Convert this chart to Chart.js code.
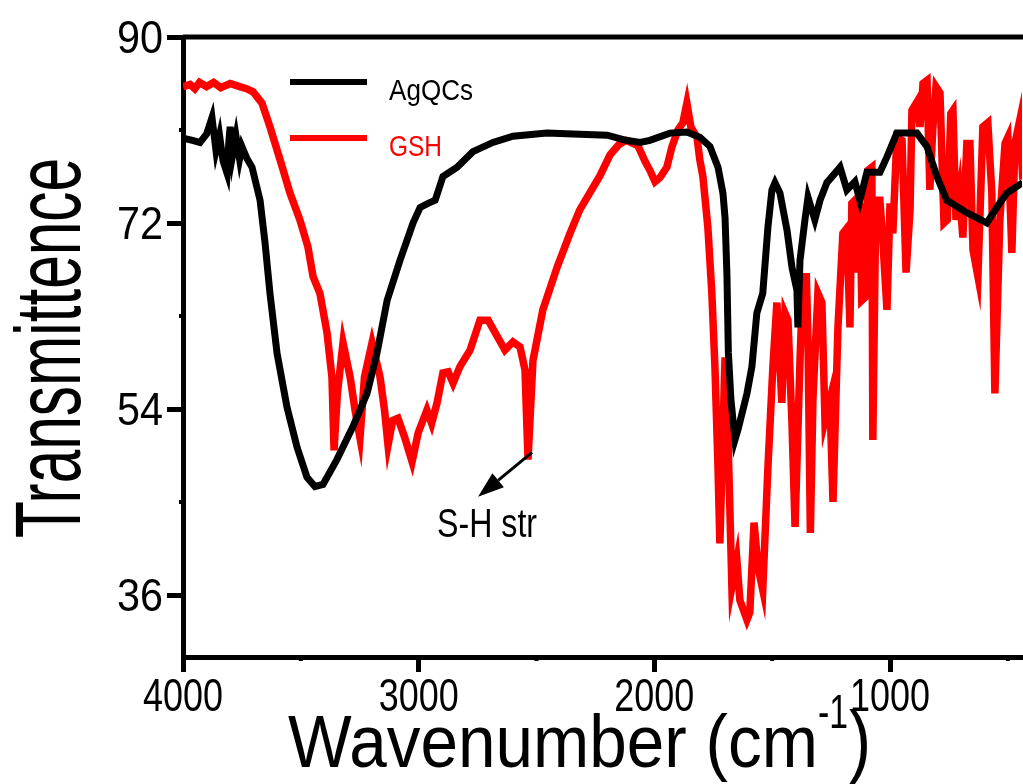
<!DOCTYPE html>
<html>
<head>
<meta charset="utf-8">
<title>FTIR AgQCs vs GSH</title>
<script src="https://cdn.jsdelivr.net/npm/chart.js@4.4.1/dist/chart.umd.min.js"></script>
<style>
  html, body { margin: 0; padding: 0; background: #fff; }
  #wrap { width: 1023px; height: 784px; }
</style>
</head>
<body>
<div id="wrap"><canvas id="ftir" width="1023" height="784"></canvas></div>
<script>
// FTIR spectra, values (wavenumber in cm-1, transmittence)
const agqcsWavenumber = [4000, 3960, 3928, 3900, 3877, 3860, 3845, 3830, 3813, 3805, 3800, 3790, 3775, 3760, 3750,
  3730, 3707, 3690, 3673, 3652, 3631, 3601, 3559, 3516, 3474, 3440, 3406, 3347, 3279, 3219, 3177, 3134, 3079,
  3024, 2994, 2960, 2930, 2897, 2837, 2770, 2685, 2600, 2456, 2316, 2200, 2120, 2060, 2019, 1934, 1862, 1807,
  1764, 1730, 1709, 1700, 1692, 1686, 1675, 1658, 1645, 1607, 1586, 1565, 1540, 1518, 1501, 1488, 1467, 1437,
  1416, 1395, 1391, 1382, 1361, 1348, 1319, 1297, 1268, 1234, 1212, 1183, 1149, 1128, 1098, 1043, 1013, 971,
  886, 843, 801, 759, 674, 589, 547, 504, 437];
const agqcsValues = [80.2, 80.0, 79.8, 80.6, 82.2, 79.0, 80.5, 78.0, 76.8, 80.0, 81.3, 78.5, 80.4, 78.2, 79.4,
  78.3, 77.4, 75.8, 74.2, 70.1, 65.2, 59.4, 54.2, 50.3, 47.4, 46.5, 46.7, 49.1, 52.3, 55.5, 59.4, 64.5, 68.4,
  72.0, 73.5, 73.9, 74.2, 76.5, 77.4, 78.9, 79.8, 80.4, 80.7, 80.6, 80.5, 80.0, 79.8, 80.0, 80.7, 80.8, 80.3,
  79.4, 77.4, 74.9, 72.5, 67.0, 59.5, 54.9, 51.0, 52.0, 55.5, 58.1, 63.3, 65.2, 71.6, 75.2, 75.9, 74.9, 71.3,
  67.7, 65.5, 61.9, 68.4, 72.3, 74.5, 72.3, 74.2, 75.9, 76.8, 77.4, 75.2, 76.0, 74.2, 76.9, 76.9, 78.4, 80.7,
  80.7, 79.4, 76.5, 74.2, 73.0, 72.0, 73.5, 74.9, 75.9];

const gshWavenumber = [4000, 3970, 3950, 3930, 3900, 3870, 3840, 3800, 3760, 3730, 3703, 3665, 3631, 3588, 3546,
  3504, 3470, 3448, 3419, 3389, 3368, 3359, 3345, 3321, 3291, 3270, 3249, 3230, 3198, 3164, 3145, 3130, 3110,
  3088, 3060, 3028, 3002, 2965, 2945, 2922, 2897, 2875, 2854, 2825, 2782, 2740, 2705, 2676, 2634, 2600, 2570,
  2549, 2536, 2515, 2473, 2413, 2358, 2316, 2230, 2188, 2150, 2120, 2070, 2040, 2019, 1997, 1976, 1947, 1925,
  1900, 1879, 1862, 1845, 1819, 1807, 1794, 1773, 1756, 1743, 1730, 1722, 1700, 1688, 1671, 1650, 1637, 1607,
  1595, 1577, 1560, 1540, 1518, 1497, 1480, 1459, 1446, 1433, 1416, 1403, 1382, 1369, 1355, 1348, 1338, 1327,
  1306, 1289, 1276, 1255, 1242, 1221, 1200, 1183, 1170, 1162, 1149, 1140, 1128, 1120, 1106, 1094, 1077, 1073,
  1060, 1043, 1030, 1013, 1000, 988, 971, 949, 932, 915, 907, 886, 873, 860, 843, 831, 818, 805, 788, 771, 757,
  742, 733, 720, 705, 691, 674, 661, 648, 627, 606, 585, 568, 555, 534, 512, 500, 483, 470, 449, 437];
const gshValues = [85.2, 85.4, 85.0, 85.6, 85.2, 85.6, 85.1, 85.5, 85.2, 85.0, 84.7, 83.6, 81.3, 78.1, 74.9,
  72.3, 69.7, 66.8, 65.2, 61.4, 57.1, 50.0, 55.5, 60.4, 57.1, 53.9, 51.2, 57.1, 60.4, 57.1, 53.9, 50.5, 52.9,
  53.1, 51.3, 48.9, 51.7, 53.9, 52.6, 54.6, 57.5, 57.6, 56.5, 58.1, 59.7, 62.6, 62.6, 61.4, 59.7, 60.5, 60.0,
  57.8, 49.1, 58.7, 63.6, 67.7, 71.0, 73.3, 76.6, 78.6, 79.6, 80.0, 79.5, 78.0, 77.1, 76.0, 76.4, 77.4, 79.4,
  81.0, 81.7, 83.6, 81.3, 80.3, 78.1, 76.5, 71.6, 65.2, 58.1, 48.4, 41.0, 59.0, 51.7, 36.8, 39.4, 35.5, 33.6,
  34.3, 43.0, 38.7, 36.5, 48.4, 58.1, 64.3, 54.6, 63.3, 62.6, 52.6, 42.6, 58.7, 66.8, 66.8, 60.7, 42.0, 55.0,
  65.2, 64.3, 52.9, 54.9, 45.0, 61.9, 71.0, 71.5, 61.9, 73.9, 74.2, 67.2, 73.9, 64.5, 64.8, 77.1, 77.4, 51.0,
  74.2, 74.2, 70.1, 63.6, 73.9, 71.0, 80.3, 80.0, 67.2, 73.3, 82.9, 83.7, 81.3, 85.5, 85.8, 75.2, 81.3, 85.2,
  84.6, 72.0, 72.3, 82.6, 82.9, 72.3, 74.9, 70.6, 79.7, 79.7, 69.4, 66.8, 81.3, 81.7, 74.9, 55.5, 72.3, 79.7,
  80.3, 69.1, 79.7, 82.0, 76.2];

const seriesNames = ["AgQCs", "GSH"];
const seriesColors = ["#000000", "#ff0000"];
const xTickValues = [4000, 3000, 2000, 1000];
const xMinorTicks = [3500, 2500, 1500, 500];
const yTickValues = [36, 54, 72, 90];
const yMinorTicks = [45, 63, 81];
const peakLabel = "S-H str";

const plain = "'Liberation Sans', Arial, sans-serif";

function toPoints(xs, ys) {
  return xs.map((x, i) => ({ x: x, y: ys[i] }));
}

// draws text squeezed horizontally so it fills the given width
function fitText(ctx, text, x, y, font, width) {
  ctx.font = font;
  const w = ctx.measureText(text).width;
  ctx.save();
  ctx.translate(x, y);
  ctx.scale(width / w, 1);
  ctx.fillText(text, 0, 0);
  ctx.restore();
}

const decorPlugin = {
  id: "decor",
  afterDraw(chart) {
    const ctx = chart.ctx;
    const area = chart.chartArea;
    const xs = chart.scales.x;
    const ys = chart.scales.y;
    ctx.save();
    ctx.strokeStyle = "#000";
    ctx.fillStyle = "#000";
    ctx.textAlign = "left";
    ctx.textBaseline = "alphabetic";

    // top frame line
    ctx.lineWidth = 5;
    ctx.beginPath();
    ctx.moveTo(area.left, area.top);
    ctx.lineTo(chart.width, area.top);
    ctx.stroke();

    // small minor ticks
    ctx.lineWidth = 4;
    xMinorTicks.forEach((v) => {
      const px = xs.getPixelForValue(v);
      ctx.beginPath();
      ctx.moveTo(px, area.bottom);
      ctx.lineTo(px, area.bottom + 4);
      ctx.stroke();
    });
    yMinorTicks.forEach((v) => {
      const py = ys.getPixelForValue(v);
      ctx.beginPath();
      ctx.moveTo(area.left, py);
      ctx.lineTo(area.left - 4, py);
      ctx.stroke();
    });

    // condensed tick labels
    xTickValues.forEach((v) => {
      const px = xs.getPixelForValue(v);
      fitText(ctx, String(v), px - 40, 711, "47px " + plain, 80);
    });
    yTickValues.forEach((v) => {
      const py = ys.getPixelForValue(v);
      fitText(ctx, String(v), 117, py + 16, "46px " + plain, 46);
    });

    // legend
    ctx.lineWidth = 6;
    const legendRows = [82, 138];
    seriesNames.forEach((name, i) => {
      ctx.strokeStyle = seriesColors[i];
      ctx.fillStyle = seriesColors[i];
      ctx.beginPath();
      ctx.moveTo(290, legendRows[i]);
      ctx.lineTo(367, legendRows[i]);
      ctx.stroke();
      fitText(ctx, name, 389, legendRows[i] + 18, "29px " + plain, i === 0 ? 84 : 53);
    });

    // S-H stretch annotation with arrow
    ctx.strokeStyle = "#000";
    ctx.fillStyle = "#000";
    const ax0 = xs.getPixelForValue(2519), ay0 = ys.getPixelForValue(49.8);
    const ax1 = xs.getPixelForValue(2748), ay1 = ys.getPixelForValue(45.5);
    const ang = Math.atan2(ay1 - ay0, ax1 - ax0);
    const headLen = 26, headHalf = 9;
    const bx = ax1 - headLen * Math.cos(ang), by = ay1 - headLen * Math.sin(ang);
    ctx.lineWidth = 3;
    ctx.beginPath();
    ctx.moveTo(ax0, ay0);
    ctx.lineTo(bx, by);
    ctx.stroke();
    ctx.beginPath();
    ctx.moveTo(ax1, ay1);
    ctx.lineTo(bx + headHalf * Math.sin(ang), by - headHalf * Math.cos(ang));
    ctx.lineTo(bx - headHalf * Math.sin(ang), by + headHalf * Math.cos(ang));
    ctx.closePath();
    ctx.fill();
    fitText(ctx, peakLabel, xs.getPixelForValue(2922), ys.getPixelForValue(41.6), "40px " + plain, 100);

    // x axis title with superscript
    fitText(ctx, "Wavenumber (cm", 288, 767, "75px " + plain, 530);
    fitText(ctx, "-1", 818, 728, "48px " + plain, 30);
    fitText(ctx, ")", 849, 767, "80px " + plain, 22);

    // y axis title, rotated
    ctx.save();
    ctx.translate(80, 538);
    ctx.rotate(-Math.PI / 2);
    fitText(ctx, "Transmittence", 0, 0, "92px " + plain, 380);
    ctx.restore();

    ctx.restore();
  }
};

new Chart(document.getElementById("ftir"), {
  type: "line",
  data: {
    datasets: [
      {
        label: seriesNames[0],
        data: toPoints(agqcsWavenumber, agqcsValues),
        borderColor: seriesColors[0],
        borderWidth: 7,
        pointRadius: 0,
        tension: 0,
        fill: false
      },
      {
        label: seriesNames[1],
        data: toPoints(gshWavenumber, gshValues),
        borderColor: seriesColors[1],
        borderWidth: 7.5,
        pointRadius: 0,
        tension: 0,
        fill: false
      }
    ]
  },
  options: {
    responsive: false,
    devicePixelRatio: 1,
    animation: false,
    layout: { padding: { top: 37, right: 1, left: 0, bottom: 0 } },
    plugins: {
      legend: { display: false },
      tooltip: { enabled: false }
    },
    scales: {
      x: {
        type: "linear",
        reverse: true,
        min: 440,
        max: 4000,
        afterBuildTicks: (s) => { s.ticks = xTickValues.map((v) => ({ value: v })); },
        afterFit: (s) => { s.height = 127; },
        ticks: { display: false },
        grid: { drawOnChartArea: false, tickLength: 15, tickWidth: 5, tickColor: "#000" },
        border: { color: "#000", width: 5 }
      },
      y: {
        min: 30,
        max: 90,
        afterBuildTicks: (s) => { s.ticks = yTickValues.map((v) => ({ value: v })); },
        afterFit: (s) => { s.width = 183; },
        ticks: { display: false },
        grid: { drawOnChartArea: false, tickLength: 16, tickWidth: 5, tickColor: "#000" },
        border: { color: "#000", width: 5 }
      }
    }
  },
  plugins: [decorPlugin]
});
</script>
</body>
</html>
